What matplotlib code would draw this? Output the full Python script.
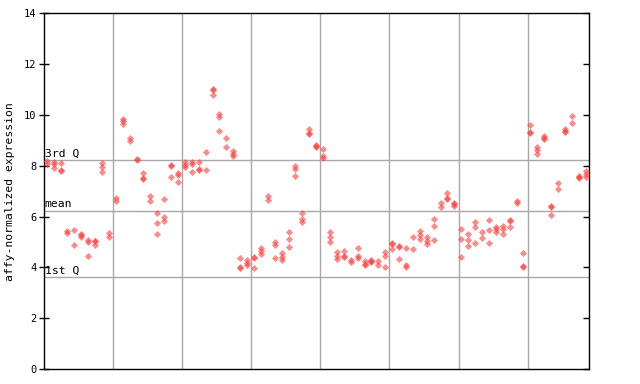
import matplotlib
matplotlib.use("Agg")
import matplotlib.pyplot as plt

# Expression values per sample (grouped between vertical gridlines)
group1 = [[8.2, 8.05], [8.15, 8.05, 7.9], [8.1, 7.82, 7.78], [5.42, 5.36], [5.47, 4.87],
          [5.3, 5.26, 5.18], [5.08, 5.0, 4.45], [5.05, 5.02, 4.9], [8.12, 7.94, 7.74], [5.34, 5.2]]
group2 = [[6.72, 6.62], [9.85, 9.75, 9.65], [9.1, 8.98], [8.25, 8.21], [7.7, 7.5, 7.47],
          [6.8, 6.62], [6.13, 5.76, 5.3], [6.68, 6.0, 5.84], [8.02, 7.98, 7.57], [7.7, 7.65, 7.35]]
group3 = [[8.15, 8.03, 7.94], [8.15, 8.07, 7.74], [8.13, 7.86, 7.82], [8.53, 7.82], [11.02, 10.98, 10.8],
          [10.05, 9.93, 9.35], [9.08, 8.72], [8.58, 8.48, 8.38], [4.36, 4.01, 3.97], [4.29, 4.18, 4.09]]
group4 = [[4.42, 4.36, 3.96], [4.75, 4.64, 4.52], [6.8, 6.66], [5.0, 4.9, 4.36], [4.55, 4.42, 4.29],
          [5.38, 5.1, 4.79], [8.0, 7.88, 7.58], [6.13, 5.9, 5.78], [9.45, 9.27, 9.23], [8.8, 8.76, 8.72]]
group5 = [[8.65, 8.4, 8.32], [5.38, 5.2, 4.99], [4.6, 4.46, 4.32], [4.64, 4.44, 4.4], [4.3, 4.2],
          [4.75, 4.44, 4.36], [4.26, 4.12, 4.08], [4.3, 4.24, 4.2], [4.24, 4.08], [4.62, 4.45, 4.03]]
group6 = [[4.97, 4.93, 4.71], [4.84, 4.8, 4.33], [4.76, 4.1, 4.02], [5.18, 4.71], [5.43, 5.27, 5.12],
          [5.18, 5.05, 4.92], [5.92, 5.62, 5.08], [6.52, 6.38], [6.94, 6.72, 6.68], [6.54, 6.5, 6.43]]
group7 = [[5.52, 5.12, 4.42], [5.3, 5.07, 4.86], [5.8, 5.6, 4.97], [5.4, 5.14], [5.86, 5.47, 4.95],
          [5.58, 5.5, 5.4], [5.62, 5.5, 5.31], [5.85, 5.81, 5.58], [6.6, 6.55], [4.58, 4.04, 4.0]]
group8 = [[9.61, 9.34, 9.3], [8.72, 8.6, 8.45], [9.18, 9.1, 9.05], [6.42, 6.38, 6.05], [7.33, 7.1],
          [9.45, 9.38, 9.33], [9.94, 9.7], [7.6, 7.55, 7.52], [7.8, 7.67, 7.57]]

groups = [group1, group2, group3, group4, group5, group6, group7, group8]

stat_labels = ["3rd Q", "mean", "1st Q"]
stat_values = [8.22, 6.22, 3.61]

y_ticks = [0, 2, 4, 6, 8, 10, 12, 14]
y_label = "affy-normalized expression"

mono = "DejaVu Sans Mono"
red = "#ff3c3c"
grid_col = "#a8a8a8"

fig = plt.figure(figsize=(6.4, 3.84), dpi=100)
ax = fig.add_axes([44.3 / 640, 1 - 369 / 384, (589 - 44.3) / 640, (369 - 13.3) / 384])

samples = [s for g in groups for s in g]
n = len(samples)

# vertical separators between groups
boundaries = []
idx = 0
for g in groups[:-1]:
    idx += len(g)
    boundaries.append(idx - 0.4)
for b in boundaries:
    ax.axvline(b, color=grid_col, lw=1.0, zorder=1)

for v, lab in zip(stat_values, stat_labels):
    ax.axhline(v, color=grid_col, lw=1.0, zorder=1)

for i, vals in enumerate(samples):
    ax.scatter([i] * len(vals), vals, marker="D", s=13, color=red, alpha=0.6,
               linewidths=0, zorder=3)

ax.set_xlim(-0.35, n - 0.52)
ax.set_ylim(0, 14)

xmin = ax.get_xlim()[0]
for v, lab in zip(stat_values, stat_labels):
    ax.text(xmin + 0.05, v + 0.06, lab, family=mono, fontsize=8.2, ha="left",
            va="bottom", color="black", zorder=4)

ax.set_xticks([])
ax.set_yticks(y_ticks)
ax.set_yticklabels([str(t) for t in y_ticks], family=mono, fontsize=7.5)
ax.tick_params(axis="y", direction="inout", length=7.5, width=1, pad=2)
ax.set_ylabel(y_label, family=mono, fontsize=8.2, labelpad=6)

for sp in ax.spines.values():
    sp.set_color("black")
    sp.set_linewidth(1.0)

ax2 = ax.twinx()
ax2.set_ylim(0, 14)
ax2.set_yticks(y_ticks)
ax2.set_yticklabels([])
ax2.tick_params(axis="y", direction="in", length=4.3, width=1)
for sp in ax2.spines.values():
    sp.set_visible(False)

fig.savefig("out.png", dpi=100)
